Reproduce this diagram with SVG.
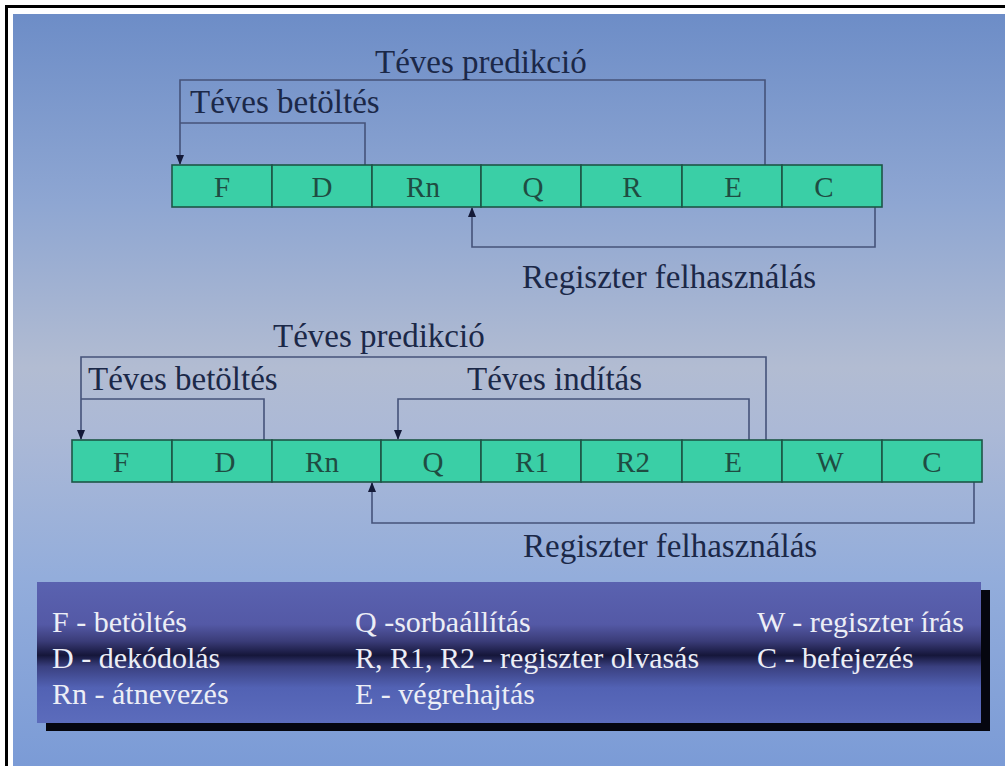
<svg xmlns="http://www.w3.org/2000/svg" width="1005" height="766" viewBox="0 0 1005 766">
<defs>
<linearGradient id="bg" x1="0" y1="0" x2="0" y2="1">
<stop offset="0" stop-color="#6d8dc7"/>
<stop offset="0.25" stop-color="#8ea6d2"/>
<stop offset="0.47" stop-color="#b2bcd2"/>
<stop offset="0.55" stop-color="#acb9d6"/>
<stop offset="0.75" stop-color="#93addb"/>
<stop offset="1" stop-color="#7b9bd6"/>
</linearGradient>
<linearGradient id="leg" x1="0" y1="0" x2="0" y2="1">
<stop offset="0" stop-color="#5a62b0"/>
<stop offset="0.3" stop-color="#5459a6"/>
<stop offset="0.42" stop-color="#3a3c78"/>
<stop offset="0.52" stop-color="#15163a"/>
<stop offset="0.6" stop-color="#3a4080"/>
<stop offset="0.75" stop-color="#5262b4"/>
<stop offset="1" stop-color="#5c6cbc"/>
</linearGradient>
<marker id="ah" markerUnits="userSpaceOnUse" markerWidth="10" markerHeight="14" refX="9" refY="4" orient="auto" viewBox="0 0 10 8">
<path d="M0,0 L10,4 L0,8 Z" fill="#141a38"/>
</marker>
<style>
.cell{fill:#3acfa6;stroke:#1d5646;stroke-width:1.6}
.cl{font-family:"Liberation Serif","Times New Roman",serif;font-size:29px;fill:#1f4c42;text-anchor:middle}
.lbl{font-family:"Liberation Serif","Times New Roman",serif;font-size:33px;fill:#1b2848}
.conn path{fill:none;stroke:#45537a;stroke-width:1.6}
.lg{font-family:"Liberation Serif","Times New Roman",serif;font-size:30px;fill:#eceef6}
</style>
</defs>
<rect x="0" y="0" width="1005" height="766" fill="#ffffff"/>
<rect x="5" y="5" width="1000" height="3" fill="#000"/>
<rect x="5" y="5" width="3" height="761" fill="#000"/>
<rect x="13" y="14" width="992" height="752" fill="url(#bg)"/>

<g id="connectors" class="conn">
<path d="M765,165 V80 H180 V164" marker-end="url(#ah)"/>
<path d="M365,165 V123 H180"/>
<path d="M875,207 V247 H472 V208" marker-end="url(#ah)"/>
<path d="M766,440 V357 H81 V439" marker-end="url(#ah)"/>
<path d="M264,440 V399 H81"/>
<path d="M749,440 V399 H398 V439" marker-end="url(#ah)"/>
<path d="M974,482 V523 H372 V483" marker-end="url(#ah)"/>
</g>

<g id="top-labels">
<text class="lbl" x="375" y="73">Téves predikció</text>
<text class="lbl" x="190" y="113">Téves betöltés</text>
<text class="lbl" x="522" y="288">Regiszter felhasználás</text>
</g>

<g id="pipeline1">
<g id="p1-F"><rect class="cell" x="172" y="165" width="100" height="42"/><text class="cl" x="222" y="197">F</text></g>
<g id="p1-D"><rect class="cell" x="272" y="165" width="100" height="42"/><text class="cl" x="322" y="197">D</text></g>
<g id="p1-Rn"><rect class="cell" x="372" y="165" width="109" height="42"/><text class="cl" x="423" y="197">Rn</text></g>
<g id="p1-Q"><rect class="cell" x="481" y="165" width="100" height="42"/><text class="cl" x="533" y="197">Q</text></g>
<g id="p1-R"><rect class="cell" x="581" y="165" width="101" height="42"/><text class="cl" x="632" y="197">R</text></g>
<g id="p1-E"><rect class="cell" x="682" y="165" width="100" height="42"/><text class="cl" x="733" y="197">E</text></g>
<g id="p1-C"><rect class="cell" x="782" y="165" width="100" height="42"/><text class="cl" x="824" y="197">C</text></g>
</g>

<g id="bottom-labels">
<text class="lbl" x="273" y="347">Téves predikció</text>
<text class="lbl" x="88" y="390">Téves betöltés</text>
<text class="lbl" x="467" y="390">Téves indítás</text>
<text class="lbl" x="523" y="557">Regiszter felhasználás</text>
</g>

<g id="pipeline2">
<g id="p2-F"><rect class="cell" x="72" y="440" width="100" height="42"/><text class="cl" x="121" y="472">F</text></g>
<g id="p2-D"><rect class="cell" x="172" y="440" width="100" height="42"/><text class="cl" x="225" y="472">D</text></g>
<g id="p2-Rn"><rect class="cell" x="272" y="440" width="109" height="42"/><text class="cl" x="322" y="472">Rn</text></g>
<g id="p2-Q"><rect class="cell" x="381" y="440" width="100" height="42"/><text class="cl" x="433" y="472">Q</text></g>
<g id="p2-R1"><rect class="cell" x="481" y="440" width="100" height="42"/><text class="cl" x="532" y="472">R1</text></g>
<g id="p2-R2"><rect class="cell" x="581" y="440" width="101" height="42"/><text class="cl" x="633" y="472">R2</text></g>
<g id="p2-E"><rect class="cell" x="682" y="440" width="100" height="42"/><text class="cl" x="733" y="472">E</text></g>
<g id="p2-W"><rect class="cell" x="782" y="440" width="100" height="42"/><text class="cl" x="830" y="472">W</text></g>
<g id="p2-C"><rect class="cell" x="882" y="440" width="100" height="42"/><text class="cl" x="932" y="472">C</text></g>
</g>

<g id="legend">
<rect x="46" y="590" width="944" height="141" fill="#05060f"/>
<rect x="37" y="582" width="944" height="141" fill="url(#leg)"/>
<text class="lg" x="52" y="632">F - betöltés</text>
<text class="lg" x="52" y="668">D - dekódolás</text>
<text class="lg" x="52" y="704">Rn - átnevezés</text>
<text class="lg" x="355" y="632">Q -sorbaállítás</text>
<text class="lg" x="355" y="668">R, R1, R2 - regiszter olvasás</text>
<text class="lg" x="355" y="704">E - végrehajtás</text>
<text class="lg" x="757" y="632">W - regiszter írás</text>
<text class="lg" x="757" y="668">C - befejezés</text>
</g>
</svg>
